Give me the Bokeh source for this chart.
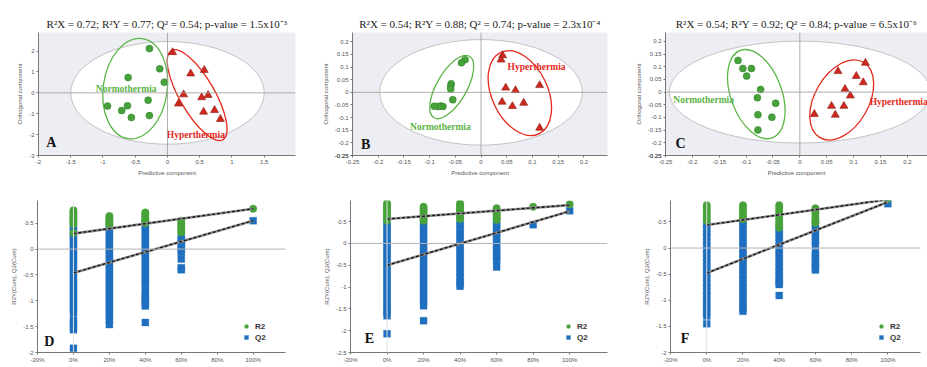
from bokeh.plotting import figure
from bokeh.layouts import column, row
from bokeh.models import (Range1d, Span, FixedTicker, CustomJSTickFormatter,
                          NumeralTickFormatter, Legend, LegendItem)
from bokeh.core.properties import value
from bokeh.embed import file_html
from bokeh.resources import INLINE

# ------------------------------------------------------------------ data
# OPLS-DA score plots (predictive vs orthogonal component)
a_normo_x = [-0.28, -0.12, -0.05, -0.61, -0.30, -0.62, -0.93, -0.71, -0.56, -0.28]
a_normo_y = [2.12, 1.15, 0.51, 0.74, -0.35, -0.62, -0.63, -0.85, -1.18, -1.09]
a_hyper_x = [0.08, 0.36, 0.57, 0.25, 0.53, 0.63, 0.17, 0.56, 0.73, 0.82]
a_hyper_y = [1.94, 0.92, 1.09, -0.08, -0.22, -0.11, -0.52, -0.91, -0.83, -1.26]

b_normo_x = [-0.031, -0.038, -0.058, -0.059, -0.059, -0.055, -0.074, -0.078, -0.083, -0.091]
b_normo_y = [0.129, 0.117, 0.034, 0.024, 0.013, -0.029, -0.056, -0.054, -0.056, -0.055]
b_hyper_x = [0.042, 0.039, 0.048, 0.067, 0.114, 0.041, 0.061, 0.083, 0.114]
b_hyper_y = [0.146, 0.129, 0.018, 0.008, 0.028, -0.038, -0.055, -0.042, -0.141]

c_normo_x = [-0.115, -0.106, -0.090, -0.099, -0.073, -0.079, -0.045, -0.078, -0.052, -0.078]
c_normo_y = [0.125, 0.093, 0.093, 0.063, 0.010, -0.022, -0.044, -0.089, -0.099, -0.149]
c_hyper_x = [0.122, 0.071, 0.105, 0.118, 0.084, 0.094, 0.059, 0.082, 0.027, 0.066]
c_hyper_y = [0.115, 0.082, 0.063, 0.038, 0.012, -0.014, -0.055, -0.055, -0.087, -0.090]

# Hotelling T2 ellipse half-axes (x, y)
a_t2 = [1.50, 2.46]
b_t2 = [0.197, 0.209]
c_t2 = [0.243, 0.201]

# group confidence ellipses: centre x, centre y
a_green_c = [-0.50, 0.20]
a_red_c = [0.46, -0.11]
b_green_c = [-0.057, 0.021]
b_red_c = [0.0755, -0.003]
c_green_c = [-0.081, -0.008]
c_red_c = [0.078, -0.031]

titles = [
    "R\u00b2X = 0.72; R\u00b2Y = 0.77; Q\u00b2 = 0.54; p-value = 1.5x10\u207b\u00b3",
    "R\u00b2X = 0.54; R\u00b2Y = 0.88; Q\u00b2 = 0.74; p-value = 2.3x10\u207b\u2074",
    "R\u00b2X = 0.54; R\u00b2Y = 0.92; Q\u00b2 = 0.84; p-value = 6.5x10\u207b\u2076",
]

# permutation tests: column positions (correlation) and values per column
d_cols = [0.0, 0.2, 0.4, 0.6, 1.0]
d_r2 = [
    [0.75, 0.72, 0.69, 0.66, 0.63, 0.60, 0.57, 0.54, 0.51, 0.48, 0.31],
    [0.64, 0.61, 0.58, 0.55, 0.52, 0.49, 0.47],
    [0.71, 0.68, 0.65, 0.62, 0.59, 0.56, 0.53, 0.50],
    [0.55, 0.51, 0.47, 0.43, 0.39, 0.35, 0.32],
    [0.78],
]
d_q2 = [
    [0.45, 0.38, 0.31, 0.24, 0.17, 0.10, 0.03, -0.04, -0.11, -0.18, -0.25, -0.32, -0.39,
     -0.46, -0.53, -0.60, -0.67, -0.74, -0.81, -0.88, -0.95, -1.02, -1.09, -1.16, -1.23,
     -1.37, -1.44, -1.51, -1.56, -1.92],
    [0.45, 0.38, 0.31, 0.24, 0.17, 0.10, 0.03, -0.04, -0.11, -0.18, -0.25, -0.32, -0.39,
     -0.46, -0.53, -0.60, -0.67, -0.74, -0.81, -0.88, -0.95, -1.02, -1.09, -1.16, -1.23,
     -1.30, -1.37, -1.46],
    [0.50, 0.43, 0.36, 0.29, 0.22, 0.15, 0.08, 0.01, -0.06, -0.13, -0.20, -0.27, -0.34,
     -0.41, -0.48, -0.55, -0.62, -0.68, -0.78, -0.85, -0.92, -0.99, -1.05, -1.10, -1.42],
    [0.23, 0.17, 0.11, 0.05, -0.01, -0.06, -0.19, -0.36, -0.40],
    [0.55],
]
d_r2_line = [0.30, 0.78]
d_q2_line = [-0.46, 0.55]

e_cols = [0.0, 0.2, 0.4, 0.6, 0.8, 1.0]
e_r2 = [
    [0.92, 0.88, 0.84, 0.80, 0.76, 0.72, 0.68, 0.64, 0.60, 0.56, 0.52],
    [0.84, 0.80, 0.76, 0.72, 0.68, 0.64, 0.60, 0.56, 0.52],
    [0.92, 0.88, 0.84, 0.80, 0.76, 0.72, 0.68, 0.64, 0.60, 0.56],
    [0.81, 0.77, 0.73, 0.69, 0.65, 0.61, 0.57, 0.54],
    [0.84],
    [0.90],
]
e_q2 = [
    [0.47, 0.38, 0.29, 0.20, 0.11, 0.02, -0.07, -0.16, -0.25, -0.34, -0.43, -0.52, -0.61,
     -0.70, -0.79, -0.88, -0.97, -1.06, -1.15, -1.24, -1.33, -1.42, -1.51, -1.58, -1.66,
     -2.07],
    [0.47, 0.38, 0.29, 0.20, 0.11, 0.02, -0.07, -0.16, -0.25, -0.34, -0.43, -0.52, -0.61,
     -0.70, -0.79, -0.88, -0.97, -1.06, -1.15, -1.24, -1.33, -1.43, -1.77],
    [0.50, 0.41, 0.32, 0.23, 0.14, 0.05, -0.04, -0.13, -0.22, -0.31, -0.40, -0.49, -0.58,
     -0.67, -0.76, -0.85, -0.92, -0.98],
    [0.50, 0.41, 0.32, 0.23, 0.14, 0.05, -0.04, -0.13, -0.22, -0.31, -0.39, -0.54],
    [0.43],
    [0.75],
]
e_r2_line = [0.56, 0.88]
e_q2_line = [-0.50, 0.74]

f_cols = [0.0, 0.2, 0.4, 0.6, 1.0]
f_r2 = [
    [0.82, 0.77, 0.72, 0.67, 0.62, 0.57, 0.52],
    [0.82, 0.77, 0.72, 0.67, 0.62, 0.57, 0.55],
    [0.82, 0.77, 0.72, 0.67, 0.62, 0.57, 0.52, 0.47, 0.43, 0.39],
    [0.76, 0.71, 0.66, 0.61, 0.56, 0.52, 0.48],
    [0.94],
]
f_q2 = [
    [0.45, 0.37, 0.29, 0.21, 0.13, 0.05, -0.03, -0.11, -0.19, -0.27, -0.35, -0.43, -0.51,
     -0.59, -0.67, -0.75, -0.83, -0.91, -0.99, -1.07, -1.15, -1.23, -1.30, -1.45],
    [0.52, 0.44, 0.36, 0.28, 0.20, 0.12, 0.04, -0.04, -0.12, -0.20, -0.28, -0.36, -0.44,
     -0.52, -0.60, -0.68, -0.76, -0.84, -0.92, -1.00, -1.08, -1.15, -1.21],
    [0.36, 0.28, 0.20, 0.12, 0.04, -0.04, -0.12, -0.20, -0.28, -0.36, -0.44, -0.52, -0.60,
     -0.66, -0.70, -0.91],
    [0.45, 0.37, 0.29, 0.21, 0.13, 0.06, -0.09, -0.15, -0.21, -0.27, -0.33, -0.38, -0.42],
    [0.85],
]
f_r2_line = [0.44, 0.93]
f_q2_line = [-0.48, 0.88]
line_x = [0.0, 1.0]

# ------------------------------------------------------------------ styles
GREEN = "#47a23a"
RED = "#d0281e"
BLUE = "#1f6fc0"
SERIF = "Liberation Serif"
SANS = "Liberation Sans"
JSFMT = "return tick.toString();"


def style_axes(p, xlabel, ylabel):
    for ax in (p.xaxis[0], p.yaxis[0]):
        ax.axis_line_color = "#777777"
        ax.major_tick_line_color = "#777777"
        ax.minor_tick_line_color = None
        ax.major_tick_out = 2
        ax.major_tick_in = 0
        ax.major_label_standoff = 2
        ax.major_label_text_font = SANS
        ax.major_label_text_font_size = "6px"
        ax.major_label_text_color = "#555555"
        ax.axis_label_text_font = SANS
        ax.axis_label_text_font_size = "6px"
        ax.axis_label_text_font_style = "normal"
        ax.axis_label_text_color = "#555555"
        ax.axis_label_standoff = 3
    p.xaxis.axis_label = xlabel
    p.yaxis.axis_label = ylabel
    p.grid.visible = False
    p.outline_line_color = None


def score_panel(w, h, borders, xr, yr, xt, yt, title, nx, ny, hx, hy, t2,
                gc, gsz, rc, rsz, nlab, hlab, letter, lpos):
    L, R, T, B = borders
    p = figure(width=w, height=h, x_range=Range1d(*xr), y_range=Range1d(*yr),
               output_backend="svg", toolbar_location=None,
               min_border_left=L, min_border_right=R, min_border_top=T, min_border_bottom=B)
    p.background_fill_color = "#eceef3"
    p.border_fill_color = "white"
    p.title.text = title
    p.title.align = "center"
    p.title.text_font = SERIF
    p.title.text_font_size = "11px"
    p.title.text_font_style = "normal"
    p.title.text_color = "#222222"
    p.title.standoff = 5
    p.ellipse(x=[0], y=[0], width=[2 * t2[0]], height=[2 * t2[1]],
              fill_color="white", line_color="#c2c2c2", line_width=1)
    p.add_layout(Span(location=0, dimension="width", line_color="#9a9a9a", line_width=0.8))
    p.add_layout(Span(location=0, dimension="height", line_color="#9a9a9a", line_width=0.8))
    p.ellipse(x=[gc[0]], y=[gc[1]], width=[gsz[0]], height=[gsz[1]], angle=[gsz[2]],
              angle_units="deg", width_units="screen", height_units="screen",
              fill_alpha=0, line_color="#5cb547", line_width=1.3)
    p.ellipse(x=[rc[0]], y=[rc[1]], width=[rsz[0]], height=[rsz[1]], angle=[rsz[2]],
              angle_units="deg", width_units="screen", height_units="screen",
              fill_alpha=0, line_color="#e5291b", line_width=1.3)
    p.scatter(nx, ny, marker="circle", size=7, fill_color=GREEN, line_color="#2f7f28",
              line_width=0.5)
    p.scatter(hx, hy, marker="triangle", size=8, fill_color=RED, line_color="#8a1a12",
              line_width=0.6)
    p.text(x=[nlab[0]], y=[nlab[1]], text=["Normothermia"], text_font=value(SERIF),
           text_font_style="bold", text_font_size="9.5px", text_color="#5cb547",
           text_align="center", text_baseline="middle")
    p.text(x=[hlab[0]], y=[hlab[1]], text=["Hyperthermia"], text_font=value(SERIF),
           text_font_style="bold", text_font_size="9.5px", text_color="#e5291b",
           text_align="center", text_baseline="middle")
    p.text(x=[lpos[0]], y=[lpos[1]], text=[letter], text_font=value(SERIF),
           text_font_style="bold", text_font_size="14px", text_color="#111111",
           text_align="center", text_baseline="middle")
    style_axes(p, "Predictive component", "Orthogonal component")
    p.xaxis.ticker = FixedTicker(ticks=xt)
    p.yaxis.ticker = FixedTicker(ticks=yt)
    p.xaxis.formatter = CustomJSTickFormatter(code=JSFMT)
    p.yaxis.formatter = CustomJSTickFormatter(code=JSFMT)
    return p


def flatten(cols, groups):
    xs, ys = [], []
    for c, vals in zip(cols, groups):
        for v in vals:
            xs.append(c)
            ys.append(v)
    return xs, ys


def perm_panel(w, h, borders, xr, yr, yt, cols, r2, q2, r2_line, q2_line, letter, lpos):
    L, R, T, B = borders
    p = figure(width=w, height=h, x_range=Range1d(*xr), y_range=Range1d(*yr),
               output_backend="svg", toolbar_location=None,
               min_border_left=L, min_border_right=R, min_border_top=T, min_border_bottom=B)
    p.background_fill_color = "white"
    p.border_fill_color = "white"
    p.add_layout(Span(location=0, dimension="width", line_color="#b5b5b5", line_width=1))
    p.add_layout(Span(location=0, dimension="height", line_color="#e2e2e2", line_width=1))
    qx, qy = flatten(cols, q2)
    rx, ry = flatten(cols, r2)
    rq = p.scatter(qx, qy, marker="square", size=7, fill_color=BLUE, line_color=BLUE,
                   line_width=0.3)
    rr = p.scatter(rx, ry, marker="circle", size=7.5, fill_color=GREEN, line_color=GREEN,
                   line_width=0.3)
    for ly in (r2_line, q2_line):
        p.line(line_x, ly, line_color="#8c8c8c", line_width=2.6)
        p.line(line_x, ly, line_color="#111111", line_width=1.3, line_dash="3 2")
    p.text(x=[lpos[0]], y=[lpos[1]], text=[letter], text_font=value(SERIF),
           text_font_style="bold", text_font_size="14px", text_color="#111111",
           text_align="center", text_baseline="middle")
    leg = Legend(items=[LegendItem(label="R2", renderers=[rr]),
                        LegendItem(label="Q2", renderers=[rq])],
                 location="bottom_right", border_line_alpha=0, background_fill_alpha=0,
                 label_text_font=SANS, label_text_font_style="bold",
                 label_text_font_size="8px", label_text_color="#333333",
                 glyph_width=10, glyph_height=10, spacing=1, padding=2, margin=8,
                 label_standoff=4, label_height=10)
    p.add_layout(leg)
    style_axes(p, None, "R2Y(Cum), Q2(Cum)")
    p.xaxis.ticker = FixedTicker(ticks=[-0.2, 0.0, 0.2, 0.4, 0.6, 0.8, 1.0])
    p.xaxis.formatter = NumeralTickFormatter(format="0%")
    p.yaxis.ticker = FixedTicker(ticks=yt)
    p.yaxis.formatter = CustomJSTickFormatter(code=JSFMT)
    return p


top_t = [-0.25, -0.2, -0.15, -0.1, -0.05, 0, 0.05, 0.1, 0.15, 0.2]

pA = score_panel(305, 185, (38, 10, 30, 28), (-2.0, 1.985), (-3.0, 2.89),
                 [-2, -1.5, -1, -0.5, 0, 0.5, 1, 1.5], [-3, -2, -1, 0, 1, 2],
                 titles[0], a_normo_x, a_normo_y, a_hyper_x, a_hyper_y, a_t2,
                 a_green_c, (64, 101, -8), a_red_c, (35, 103, 30),
                 (-0.64, 0.2), (0.44, -2.03), "A", (-1.80, -2.37))
pB = score_panel(310, 185, (47, 8, 32, 29), (-0.25, 0.246), (-0.25, 0.237),
                 top_t, [-0.25] + top_t,
                 titles[1], b_normo_x, b_normo_y, b_hyper_x, b_hyper_y, b_t2,
                 b_green_c, (30, 71, -30), b_red_c, (56, 90, 25),
                 (-0.079, -0.137), (0.108, 0.10), "B", (-0.2245, -0.205))
pC = score_panel(312, 185, (50, 0, 32, 30), (-0.25, 0.2376), (-0.25, 0.235),
                 top_t, [-0.25] + top_t,
                 titles[2], c_normo_x, c_normo_y, c_hyper_x, c_hyper_y, c_t2,
                 c_green_c, (51, 93, 20), c_red_c, (54, 87, -30),
                 (-0.179, -0.031), (0.184, -0.038), "C", (-0.222, -0.204))

pD = perm_panel(305, 182, (37, 20, 15, 15), (-0.2, 1.18), (-2.0, 0.94),
                [-2, -1.5, -1, -0.5, 0, 0.5], d_cols, d_r2, d_q2, d_r2_line, d_q2_line,
                "D", (-0.134, -1.79))
pE = perm_panel(310, 182, (45, 8, 12, 14), (-0.2, 1.207), (-2.5, 0.985),
                [-2.5, -2, -1.5, -1, -0.5, 0, 0.5], e_cols, e_r2, e_q2, e_r2_line, e_q2_line,
                "E", (-0.097, -2.19))
pF = perm_panel(312, 182, (55, 7, 10, 14), (-0.2, 1.18), (-2.0, 0.91),
                [-2, -1.5, -1, -0.5, 0, 0.5], f_cols, f_r2, f_q2, f_r2_line, f_q2_line,
                "F", (-0.12, -1.73))

layout = column(row(pA, pB, pC), row(pD, pE, pF))
open("out.html", "w").write(file_html(layout, INLINE))
